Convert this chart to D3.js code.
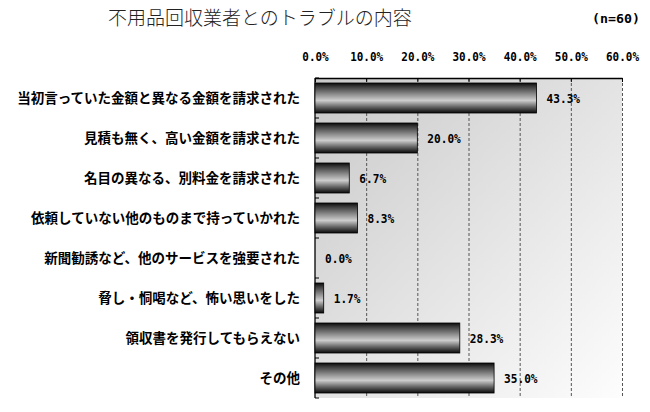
<!DOCTYPE html>
<html>
<head>
<meta charset="utf-8">
<script src="https://cdn.jsdelivr.net/npm/d3@7"></script>
<style>
  body { margin: 0; background: #fff; }
  svg { display: block; }
</style>
</head>
<body>
<script>
const categories = [
  "当初言っていた金額と異なる金額を請求された",
  "見積も無く、高い金額を請求された",
  "名目の異なる、別料金を請求された",
  "依頼していない他のものまで持っていかれた",
  "新聞勧誘など、他のサービスを強要された",
  "脅し・恫喝など、怖い思いをした",
  "領収書を発行してもらえない",
  "その他"
];
const values = [43.3, 20.0, 6.7, 8.3, 0.0, 1.7, 28.3, 35.0];
const ticks = [0, 10, 20, 30, 40, 50, 60];
const title = "不用品回収業者とのトラブルの内容";
const note = "(n=60)";

const width = 650, height = 412;
const margin = {top: 78, right: 28, bottom: 14, left: 315};

const monoFont = "'DejaVu Sans Mono', 'Liberation Mono', monospace";
const jpFont = "'Noto Sans CJK JP', sans-serif";
const pct = d => d3.format(".1f")(d) + "%";

const svg = d3.select("body").append("svg")
    .attr("width", width)
    .attr("height", height);

const defs = svg.append("defs");

const bg = defs.append("linearGradient")
    .attr("id", "bg")
    .attr("x1", 0).attr("y1", 0).attr("x2", 1).attr("y2", 1);
bg.append("stop").attr("offset", 0).attr("stop-color", "#c9c9c9");
bg.append("stop").attr("offset", 1).attr("stop-color", "#fdfdfd");

const bar = defs.append("linearGradient")
    .attr("id", "bar")
    .attr("x1", 0).attr("y1", 0).attr("x2", 0).attr("y2", 1);
[[0, "#0a0a0a"], [0.12, "#3a3a3a"], [0.35, "#858585"], [0.58, "#cdcdcd"], [0.8, "#626262"], [1, "#0a0a0a"]]
  .forEach(([o, c]) => bar.append("stop").attr("offset", o).attr("stop-color", c));

const x = d3.scaleLinear()
    .domain([0, 60])
    .range([margin.left, width - margin.right]);

const y = d3.scaleBand()
    .domain(categories)
    .range([margin.top, height - margin.bottom])
    .paddingInner(0.25)
    .paddingOuter(0.125);

// condensed look: squeeze mono glyphs to ~6.6px each
const squeeze = (sel, per) => sel
    .attr("textLength", function() { return this.textContent.length * per; })
    .attr("lengthAdjust", "spacingAndGlyphs");

// plot background
svg.append("rect")
    .attr("x", x(0))
    .attr("y", margin.top)
    .attr("width", x(60) - x(0))
    .attr("height", height - margin.bottom - margin.top)
    .attr("fill", "url(#bg)");

// dashed gridlines
svg.append("g")
    .attr("stroke", "#555")
    .attr("stroke-dasharray", "3,2")
  .selectAll("line")
  .data(ticks.slice(1))
  .join("line")
    .attr("x1", d => x(d) + 0.5)
    .attr("x2", d => x(d) + 0.5)
    .attr("y1", margin.top)
    .attr("y2", height - margin.bottom);

// top axis
const xAxis = g => g
    .attr("transform", `translate(0,${margin.top})`)
    .call(d3.axisTop(x).tickValues(ticks).tickSizeInner(-4).tickSizeOuter(0).tickPadding(17)
        .tickFormat(pct))
    .call(g => g.select(".domain").attr("stroke", "#000").attr("stroke-width", 1.3))
    .call(g => g.selectAll(".tick line").attr("stroke", "#000"))
    .call(g => g.selectAll(".tick text")
        .attr("font-family", monoFont)
        .attr("font-weight", "bold")
        .attr("font-size", 13)
        .attr("fill", "#000")
        .call(squeeze, 6.6));
svg.append("g").call(xAxis);

// left axis with ticks at band boundaries
const bounds = d3.range(categories.length + 1).map(i => margin.top + i * y.step());
svg.append("line")
    .attr("x1", x(0)).attr("x2", x(0))
    .attr("y1", margin.top).attr("y2", height - margin.bottom)
    .attr("stroke", "#000").attr("stroke-width", 1.3);
svg.append("g")
    .attr("stroke", "#000")
  .selectAll("line")
  .data(bounds)
  .join("line")
    .attr("x1", x(0))
    .attr("x2", x(0) + 4)
    .attr("y1", d => d)
    .attr("y2", d => d);

// bars
svg.append("g")
  .selectAll("rect")
  .data(values)
  .join("rect")
    .attr("x", x(0))
    .attr("y", (d, i) => y(categories[i]))
    .attr("width", d => x(d) - x(0))
    .attr("height", y.bandwidth())
    .attr("fill", "url(#bar)")
    .attr("stroke", d => d > 0 ? "#000" : "none")
    .attr("stroke-width", 0.8);

// value labels
svg.append("g")
    .attr("font-family", monoFont)
    .attr("font-weight", "bold")
    .attr("font-size", 13)
  .selectAll("text")
  .data(values)
  .join("text")
    .attr("x", d => x(d) + 10)
    .attr("y", (d, i) => y(categories[i]) + y.bandwidth() / 2)
    .attr("dy", "0.36em")
    .text(pct)
    .call(squeeze, 6.7);

// category labels
svg.append("g")
    .attr("font-family", jpFont)
    .attr("font-weight", "bold")
    .attr("font-size", 13.5)
    .attr("text-anchor", "end")
  .selectAll("text")
  .data(categories)
  .join("text")
    .attr("x", 300)
    .attr("y", d => y(d) + y.bandwidth() / 2)
    .attr("dy", "0.36em")
    .text(d => d);

// title and note
svg.append("text")
    .attr("x", 108)
    .attr("y", 25)
    .attr("font-family", jpFont)
    .attr("font-weight", 300)
    .attr("font-size", 19)
    .attr("fill", "#222")
    .text(title);

svg.append("text")
    .attr("x", 640)
    .attr("y", 23)
    .attr("text-anchor", "end")
    .attr("font-family", monoFont)
    .attr("font-weight", "bold")
    .attr("font-size", 13)
    .text(note)
    .call(squeeze, 8);
</script>
</body>
</html>
